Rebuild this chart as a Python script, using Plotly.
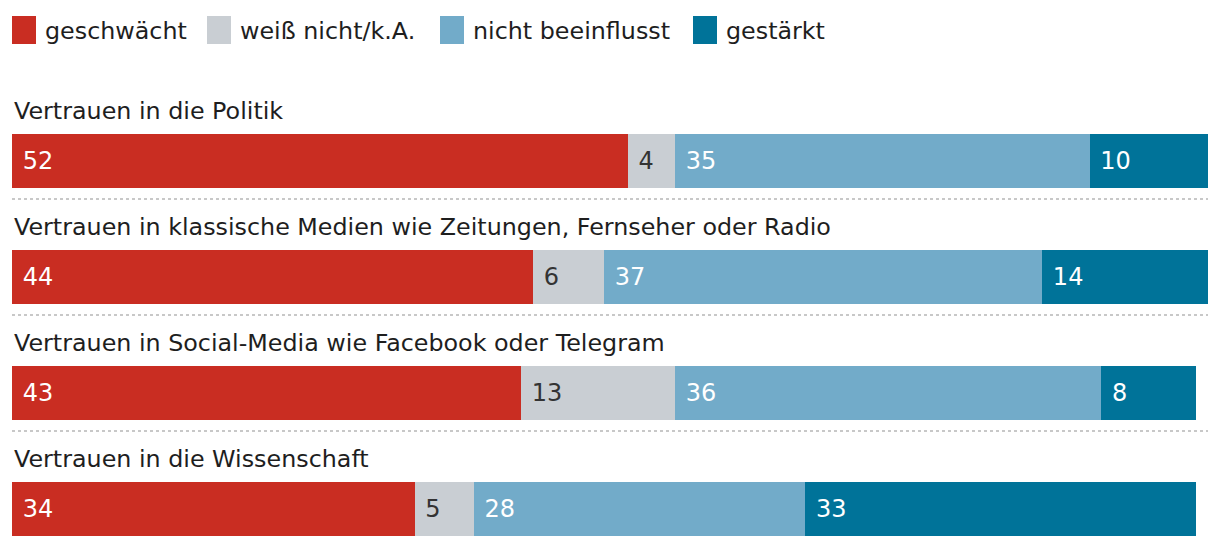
import plotly.graph_objects as go

categories = [
    "Vertrauen in die Politik",
    "Vertrauen in klassische Medien wie Zeitungen, Fernseher oder Radio",
    "Vertrauen in Social-Media wie Facebook oder Telegram",
    "Vertrauen in die Wissenschaft",
]
series_names = ["geschwächt", "weiß nicht/k.A.", "nicht beeinflusst", "gestärkt"]
geschwaecht = [52, 44, 43, 34]
weiss_nicht = [4, 6, 13, 5]
nicht_beeinflusst = [35, 37, 36, 28]
gestaerkt = [10, 14, 8, 33]

colors = ["#C92D22", "#C9CED3", "#72ABC9", "#007399"]
text_colors = ["#FFFFFF", "#333333", "#FFFFFF", "#FFFFFF"]
FONT = "DejaVu Sans"
LABEL_SIZE = 23.8

# page geometry (browser body has an 8px margin)
OFF = 8
W, H = 1220 - OFF, 548 - OFF
ML, MR, MT, MB = 4, 12, 72, 0
PW, PH = W - ML - MR, H - MT - MB


def px_x(p):  # page pixel -> paper x
    return (p - OFF - ML) / PW


def px_y(p):  # page pixel -> paper y
    return (H - MB - (p - OFF)) / PH


fig = go.Figure()
for name, vals, col, tcol in zip(series_names,
                                 [geschwaecht, weiss_nicht, nicht_beeinflusst, gestaerkt],
                                 colors, text_colors):
    fig.add_trace(go.Bar(
        y=categories, x=vals, name=name, orientation="h",
        marker=dict(color=col, line=dict(width=0)),
        width=0.466,
        text=vals, texttemplate="\u00a0%{x}",
        textposition="inside", insidetextanchor="start", textangle=0,
        insidetextfont=dict(family=FONT, size=24, color=tcol),
        hoverinfo="x+name", showlegend=False,
    ))

shapes = []
for i in range(len(categories) - 1):
    shapes.append(dict(type="line", xref="paper", x0=0, x1=1,
                       yref="y", y0=i + 0.328, y1=i + 0.328,
                       line=dict(color="#C8C8C8", width=2, dash="dot")))

annotations = []
for c in categories:
    annotations.append(dict(text=c, xref="paper", x=0, xanchor="left",
                            yref="y", y=c, yshift=50, yanchor="middle",
                            showarrow=False,
                            font=dict(family=FONT, size=LABEL_SIZE, color="#1E1E1E")))

# custom legend (large square swatches)
legend_sq_left = [12, 207, 440, 693]
for name, col, x0 in zip(series_names, colors, legend_sq_left):
    shapes.append(dict(type="rect", xref="paper", yref="paper",
                       x0=px_x(x0), x1=px_x(x0 + 24), y0=px_y(44), y1=px_y(16),
                       fillcolor=col, line=dict(width=0)))
    annotations.append(dict(text=name, xref="paper", yref="paper",
                            x=px_x(x0 + 31), xanchor="left",
                            y=px_y(31), yanchor="middle", showarrow=False,
                            font=dict(family=FONT, size=LABEL_SIZE, color="#1E1E1E")))

fig.update_layout(
    barmode="stack",
    width=W, height=H,
    margin=dict(l=ML, r=MR, t=MT, b=MB, pad=0),
    paper_bgcolor="white", plot_bgcolor="white",
    font=dict(family=FONT, size=22, color="#1E1E1E"),
    showlegend=False,
    xaxis=dict(range=[0, 101], visible=False, fixedrange=True),
    yaxis=dict(categoryorder="array", categoryarray=categories,
               range=[3.336, -0.698], visible=False, fixedrange=True),
    shapes=shapes, annotations=annotations,
    uniformtext=dict(minsize=24, mode="show"),
)

fig.write_html("out.html")
